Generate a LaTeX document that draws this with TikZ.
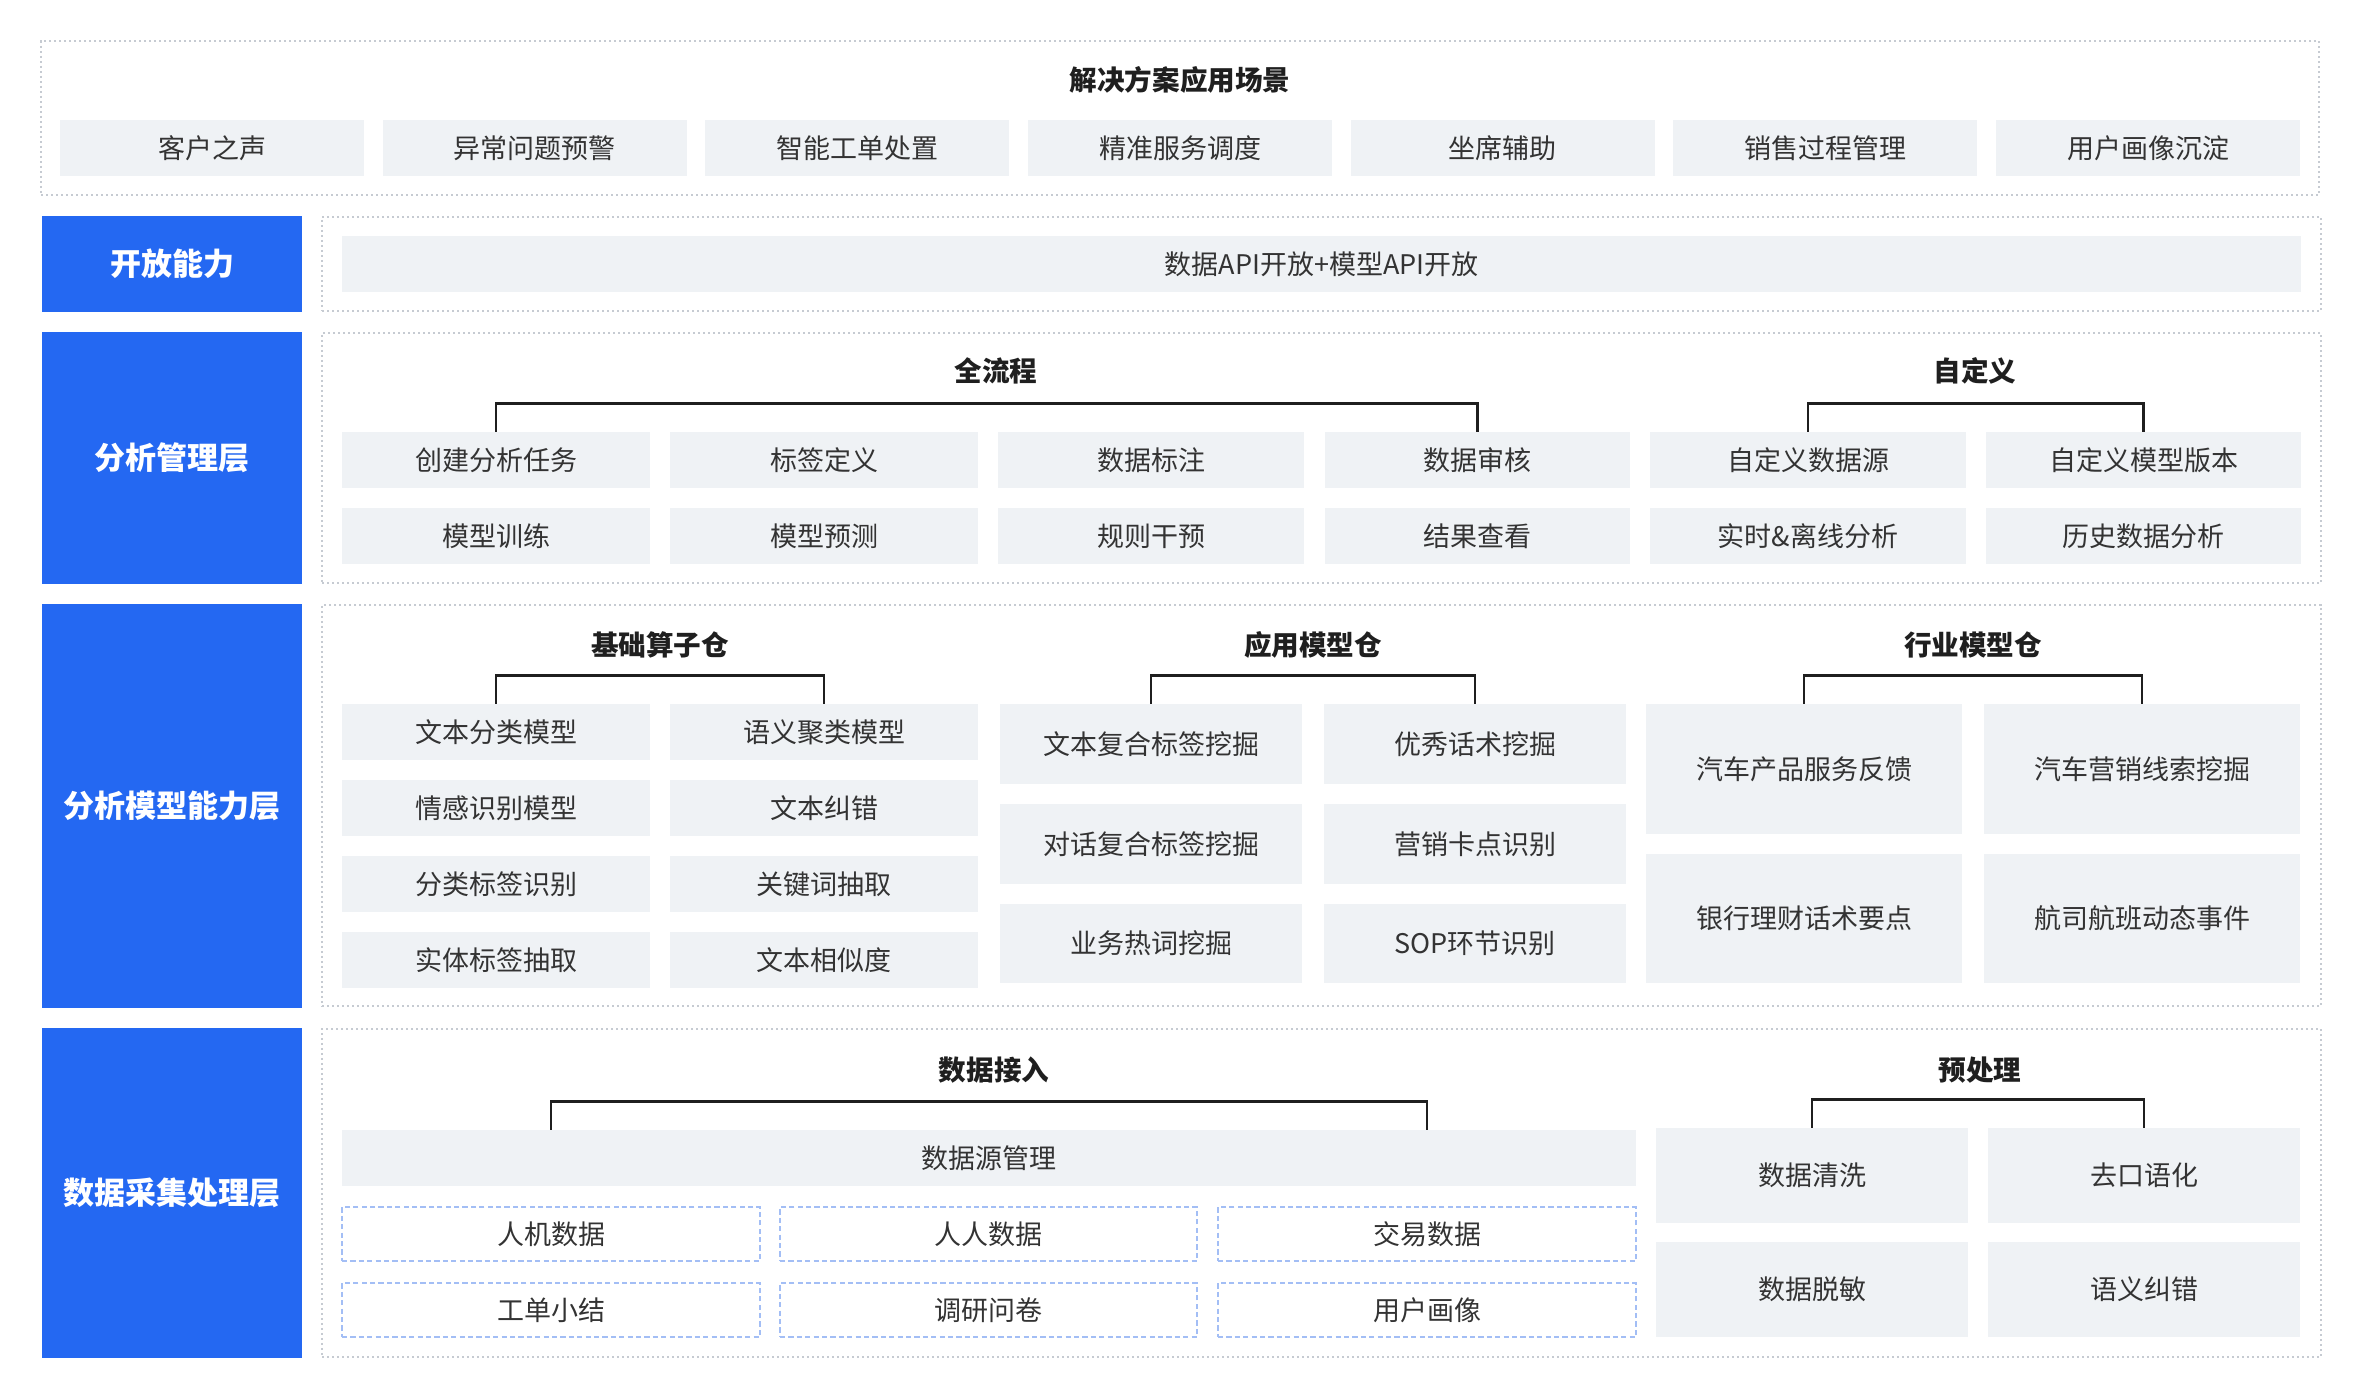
\documentclass[tikz,border=0pt]{standalone}
\usepackage{fontspec}
\setmainfont{Noto Sans CJK SC}
\definecolor{bluec}{HTML}{2468F2}
\definecolor{boxgray}{HTML}{EFF2F5}
\definecolor{dotc}{HTML}{C6CBD2}
\definecolor{dashc}{HTML}{A3BEF5}
\definecolor{txt}{HTML}{333333}
\definecolor{ttlc}{HTML}{1F1F1F}
\newcommand{\bx}[7]{\node[#1, minimum width={(#5-#3)*0.5pt}, minimum height={(#6-#4)*0.5pt}] (#2) at ({(#3+#5)/2},{(#4+#6)/2}) {#7};}
\begin{document}
\begin{tikzpicture}[x=0.5pt,y=-0.5pt,
  gb/.style={fill=boxgray, inner sep=0pt, text=txt, font=\fontsize{13.5}{16}\selectfont},
  db/.style={draw=dashc, line width=0.8pt, dash pattern=on 2.6pt off 1.6pt, inner sep=0pt, text=txt, font=\fontsize{13.5}{16}\selectfont},
  side/.style={fill=bluec, inner sep=0pt, text=white, font=\fontsize{15.5}{18}\selectfont\bfseries},
  lyr/.style={draw=dotc, line width=0.8pt, dash pattern=on 0.8pt off 1.7pt, inner sep=0pt},
  ttl/.style={inner sep=0pt, text=ttlc, font=\fontsize{13.8}{16}\selectfont\bfseries},
  brk/.style={draw=ttlc, line width=1.2pt}]
\useasboundingbox[fill=white] (0,0) rectangle (2360,1398);

% ---------- top: scenarios ----------
\bx{lyr}{L0}{41}{41}{2319}{195}{}
\node[ttl] (t0) at (1180,80) {解决方案应用场景};
\bx{gb}{s1}{60}{120}{364}{176}{客户之声}
\bx{gb}{s2}{382.7}{120}{686.7}{176}{异常问题预警}
\bx{gb}{s3}{705.3}{120}{1009.3}{176}{智能工单处置}
\bx{gb}{s4}{1028}{120}{1332}{176}{精准服务调度}
\bx{gb}{s5}{1350.7}{120}{1654.7}{176}{坐席辅助}
\bx{gb}{s6}{1673.3}{120}{1977.3}{176}{销售过程管理}
\bx{gb}{s7}{1996}{120}{2300}{176}{用户画像沉淀}

% ---------- open ability ----------
\bx{side}{B1}{42}{216}{302}{312}{开放能力}
\bx{lyr}{L1}{322}{217}{2321}{311}{}
\bx{gb}{api}{342}{236}{2301}{292}{数据API开放+模型API开放}

% ---------- analysis management ----------
\bx{side}{B2}{42}{332}{302}{584}{分析管理层}
\bx{lyr}{L2}{322}{333}{2321}{583}{}
\node[ttl] (t21) at (996,371) {全流程};
\node[ttl] (t22) at (1975,371) {自定义};
\bx{gb}{m11}{342}{432}{650}{488}{创建分析任务}
\bx{gb}{m12}{670}{432}{978}{488}{标签定义}
\bx{gb}{m13}{998}{432}{1304}{488}{数据标注}
\bx{gb}{m14}{1325}{432}{1630}{488}{数据审核}
\bx{gb}{m15}{1650}{432}{1966}{488}{自定义数据源}
\bx{gb}{m16}{1986}{432}{2301}{488}{自定义模型版本}
\bx{gb}{m21}{342}{508}{650}{564}{模型训练}
\bx{gb}{m22}{670}{508}{978}{564}{模型预测}
\bx{gb}{m23}{998}{508}{1304}{564}{规则干预}
\bx{gb}{m24}{1325}{508}{1630}{564}{结果查看}
\bx{gb}{m25}{1650}{508}{1966}{564}{实时\&离线分析}
\bx{gb}{m26}{1986}{508}{2301}{564}{历史数据分析}
\draw[brk] (m11.north) -- ++(0,-28) -| (m14.north);
\draw[brk] (m15.north) -- ++(0,-28) -| (m16.north);

% ---------- analysis model capability ----------
\bx{side}{B3}{42}{604}{302}{1008}{分析模型能力层}
\bx{lyr}{L3}{322}{605}{2321}{1006}{}
\node[ttl] (t31) at (660,645) {基础算子仓};
\node[ttl] (t32) at (1313,645) {应用模型仓};
\node[ttl] (t33) at (1973,645) {行业模型仓};
\bx{gb}{a11}{342}{704}{650}{760}{文本分类模型}
\bx{gb}{a12}{670}{704}{978}{760}{语义聚类模型}
\bx{gb}{a21}{342}{780}{650}{836}{情感识别模型}
\bx{gb}{a22}{670}{780}{978}{836}{文本纠错}
\bx{gb}{a31}{342}{856}{650}{912}{分类标签识别}
\bx{gb}{a32}{670}{856}{978}{912}{关键词抽取}
\bx{gb}{a41}{342}{932}{650}{988}{实体标签抽取}
\bx{gb}{a42}{670}{932}{978}{988}{文本相似度}
\bx{gb}{p11}{1000}{704}{1302}{784}{文本复合标签挖掘}
\bx{gb}{p12}{1324}{704}{1626}{784}{优秀话术挖掘}
\bx{gb}{p21}{1000}{804}{1302}{884}{对话复合标签挖掘}
\bx{gb}{p22}{1324}{804}{1626}{884}{营销卡点识别}
\bx{gb}{p31}{1000}{904}{1302}{983}{业务热词挖掘}
\bx{gb}{p32}{1324}{904}{1626}{983}{SOP环节识别}
\bx{gb}{h11}{1646}{704}{1962}{834}{汽车产品服务反馈}
\bx{gb}{h12}{1984}{704}{2300}{834}{汽车营销线索挖掘}
\bx{gb}{h21}{1646}{854}{1962}{983}{银行理财话术要点}
\bx{gb}{h22}{1984}{854}{2300}{983}{航司航班动态事件}
\draw[brk] (a11.north) -- ++(0,-28) -| (a12.north);
\draw[brk] (p11.north) -- ++(0,-28) -| (p12.north);
\draw[brk] (h11.north) -- ++(0,-28) -| (h12.north);

% ---------- data collection & processing ----------
\bx{side}{B4}{42}{1028}{302}{1358}{数据采集处理层}
\bx{lyr}{L4}{322}{1029}{2321}{1357}{}
\node[ttl] (t41) at (994,1070) {数据接入};
\node[ttl] (t42) at (1980,1070) {预处理};
\bx{gb}{dsm}{342}{1130}{1636}{1186}{数据源管理}
\bx{db}{d11}{342}{1207}{760}{1261}{人机数据}
\bx{db}{d12}{780}{1207}{1197}{1261}{人人数据}
\bx{db}{d13}{1218}{1207}{1636}{1261}{交易数据}
\bx{db}{d21}{342}{1283}{760}{1337}{工单小结}
\bx{db}{d22}{780}{1283}{1197}{1337}{调研问卷}
\bx{db}{d23}{1218}{1283}{1636}{1337}{用户画像}
\bx{gb}{q11}{1656}{1128}{1968}{1223}{数据清洗}
\bx{gb}{q12}{1988}{1128}{2300}{1223}{去口语化}
\bx{gb}{q21}{1656}{1242}{1968}{1337}{数据脱敏}
\bx{gb}{q22}{1988}{1242}{2300}{1337}{语义纠错}
\draw[brk] (d11.north |- dsm.north) -- ++(0,-28) -| (d13.north |- dsm.north);
\draw[brk] (q11.north) -- ++(0,-28) -| (q12.north);
\end{tikzpicture}
\end{document}
